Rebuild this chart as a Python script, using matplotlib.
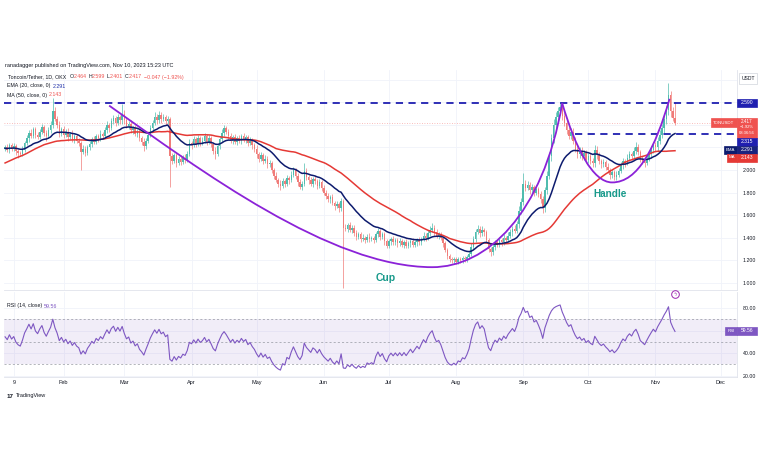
import numpy as np
import pandas as pd
import matplotlib
matplotlib.use("Agg")
import matplotlib.pyplot as plt
import matplotlib.dates as mdates
from matplotlib.path import Path
from matplotlib.patches import PathPatch, Rectangle
from matplotlib.lines import Line2D

plt.rcParams['font.family'] = ['Liberation Sans', 'DejaVu Sans']

W, H = 768, 463

# ---------------- data (TON/USDT daily) ----------------
start_date = "2023-01-05"
# closes before the first visible candle (only feed the indicators)
warmup_close = [1.74, 1.76, 1.73, 1.78, 1.75, 1.79, 1.77, 1.80, 1.78, 1.82,
                1.79, 1.81, 1.84, 1.80, 1.83, 1.86, 1.90, 1.95, 2.02, 2.08,
                2.14, 2.18, 2.22, 2.20, 2.25, 2.23, 2.27, 2.24, 2.21, 2.26,
                2.23, 2.28, 2.25, 2.22, 2.24, 2.20, 2.23, 2.19, 2.22, 2.25,
                2.21, 2.18, 2.22, 2.19, 2.23, 2.20, 2.17, 2.21, 2.19]

c_jan = [2.20, 2.18, 2.22, 2.19, 2.21, 2.17, 2.15, 2.14, 2.18, 2.24,
         2.28, 2.33, 2.30, 2.36, 2.31, 2.29, 2.34, 2.38, 2.33, 2.30,
         2.35, 2.40, 2.52, 2.45, 2.40, 2.32, 2.36]
c_feb = [2.31, 2.34, 2.29, 2.32, 2.27, 2.30, 2.26, 2.24, 2.16, 2.19,
         2.15, 2.20, 2.23, 2.27, 2.25, 2.30, 2.28, 2.32, 2.30, 2.35,
         2.40, 2.37, 2.43, 2.46, 2.42, 2.47, 2.44, 2.50]
c_mar = [2.44, 2.39, 2.41, 2.35, 2.37, 2.32, 2.34, 2.28, 2.25, 2.21,
         2.26, 2.31, 2.37, 2.42, 2.47, 2.44, 2.49, 2.45, 2.47, 2.43,
         2.45, 2.12, 2.08, 2.13, 2.06, 2.10, 2.07, 2.11, 2.09, 2.14,
         2.24]
c_apr = [2.22, 2.27, 2.23, 2.28, 2.24, 2.26, 2.30, 2.25, 2.28, 2.23,
         2.17, 2.14, 2.21, 2.27, 2.33, 2.37, 2.34, 2.30, 2.26, 2.29,
         2.25, 2.28, 2.26, 2.30, 2.27, 2.29, 2.24, 2.26, 2.22, 2.19]
c_may = [2.14, 2.10, 2.13, 2.08, 2.10, 2.05, 2.06, 2.00, 1.95, 1.91,
         1.88, 1.86, 1.90, 1.88, 1.93, 1.91, 1.96, 2.00, 1.95, 1.89,
         1.85, 1.88, 1.99, 1.94, 1.91, 1.88, 1.92, 1.90, 1.86, 1.89,
         1.84]
c_jun = [1.80, 1.77, 1.74, 1.76, 1.71, 1.68, 1.70, 1.66, 1.73, 1.49,
         1.48, 1.51, 1.47, 1.49, 1.44, 1.41, 1.43, 1.39, 1.40, 1.38,
         1.41, 1.39, 1.40, 1.38, 1.43, 1.46, 1.41, 1.43, 1.37, 1.33]
c_jul = [1.37, 1.39, 1.36, 1.38, 1.35, 1.37, 1.34, 1.36, 1.33, 1.35,
         1.37, 1.34, 1.36, 1.38, 1.36, 1.39, 1.42, 1.40, 1.44, 1.47,
         1.49, 1.45, 1.42, 1.43, 1.40, 1.35, 1.29, 1.24, 1.21, 1.20,
         1.21]
c_aug = [1.19, 1.21, 1.20, 1.22, 1.21, 1.23, 1.26, 1.32, 1.39, 1.45,
         1.48, 1.44, 1.47, 1.45, 1.38, 1.30, 1.27, 1.32, 1.36, 1.34,
         1.38, 1.36, 1.40, 1.38, 1.42, 1.45, 1.48, 1.46, 1.52, 1.64,
         1.72]
c_sep = [1.88, 1.84, 1.87, 1.82, 1.85, 1.80, 1.83, 1.79, 1.74, 1.66,
         1.82, 1.95, 2.12, 2.28, 2.40, 2.47, 2.52, 2.56, 2.48, 2.42,
         2.35, 2.30, 2.34, 2.26, 2.19, 2.14, 2.17, 2.12, 2.15, 2.09]
c_oct = [2.12, 2.08, 2.06, 2.18, 2.13, 2.08, 2.05, 2.07, 2.03, 2.00,
         1.96, 1.98, 1.94, 1.96, 1.99, 2.04, 2.08, 2.06, 2.11, 2.14,
         2.12, 2.17, 2.20, 2.16, 2.10, 2.08, 2.06, 2.10, 2.14, 2.18,
         2.22]
c_nov = [2.20, 2.26, 2.31, 2.37, 2.45, 2.53, 2.66, 2.52, 2.464, 2.417]

# upper / lower wick lengths beyond the body, in hundredths
uw_jan = [2,3,2,2,3,2,2,2,3,2, 3,2,3,2,2,3,2,3,2,2, 3,3,12,4,3,3,2]
lw_jan = [2,2,3,2,2,4,4,2,2,2, 2,3,2,2,3,2,2,2,3,4, 2,2,3,2,3,3,2]
uw_feb = [3,2,3,2,3,2,2,2,2,3, 2,2,3,2,3,2,2,3,2,3, 3,2,3,3,2,3,2,8]
lw_feb = [3,2,3,2,2,3,2,3,16,2, 3,2,2,3,2,2,3,2,3,2, 2,3,2,2,3,2,3,3]
uw_mar = [3,3,2,3,2,3,2,3,2,3, 2,3,3,2,4,3,3,2,3,2, 3,2,3,2,3,2,3,2,3,3, 3]
lw_mar = [3,2,3,2,3,2,3,2,3,4, 2,2,2,3,2,3,2,3,2,3, 2,27,3,2,3,2,3,2,3,2, 2]
uw_apr = [2,3,2,3,2,3,3,2,3,2, 2,3,2,3,3,3,2,2,3,2, 3,2,3,2,3,2,2,3,2,2]
lw_apr = [3,2,3,2,3,2,2,3,2,3, 3,4,2,2,2,3,2,3,2,3, 2,3,2,3,2,3,3,2,3,3]
uw_may = [3,2,3,2,3,2,3,2,2,3, 2,3,3,2,3,2,3,3,2,2, 3,2,7,3,2,3,2,3,2,3, 2]
lw_may = [3,3,2,3,2,3,2,3,3,2, 3,4,2,3,2,3,2,2,3,3, 2,3,2,3,3,2,3,2,3,2, 3]
uw_jun = [3,2,3,2,3,2,3,2,2,1, 3,2,3,2,2,3,2,2,3,2, 2,3,2,2,2,3,2,2,2,2]
lw_jun = [2,3,2,3,2,3,2,3,2,53, 2,3,2,3,2,3,2,3,2,3, 2,3,2,3,2,2,3,2,3,2]
uw_jul = [2,2,3,2,2,3,2,2,3,2, 2,3,2,2,3,2,3,2,3,3, 4,2,3,2,2,2,2,2,2,2, 2]
lw_jul = [2,3,2,2,3,2,2,3,2,2, 3,2,2,3,2,2,2,3,2,2, 2,3,2,3,2,3,2,3,2,2, 3]
uw_aug = [2,2,2,2,2,2,2,3,3,3, 3,2,3,2,2,2,2,3,2,2, 3,2,3,2,3,3,2,3,3,4, 3]
lw_aug = [2,2,2,2,2,2,2,2,2,3, 2,3,2,3,2,3,3,2,3,2, 2,3,2,3,2,2,3,2,2,3, 3]
uw_sep = [9,3,3,2,3,2,3,2,2,3, 3,4,4,4,5,4,4,4,3,3, 3,3,3,3,3,3,3,3,3,3]
lw_sep = [3,3,2,3,2,3,2,3,3,4, 3,3,3,4,4,4,3,3,4,3, 3,3,3,3,3,3,3,3,3,3]
uw_oct = [3,3,3,4,3,3,2,3,2,3, 2,3,2,3,3,3,3,2,3,3, 2,3,5,3,2,2,3,3,3,3, 3]
lw_oct = [3,3,3,3,3,3,3,2,3,3, 4,3,3,3,2,2,3,3,2,3, 3,2,3,3,3,3,3,2,2,3, 3]
uw_nov = [3,3,4,4,4,4,11,4,4,13.5]
lw_nov = [3,3,3,3,4,4,4,5,3.4,1.6]

resistance = 2.590
handle_level = 2.315
last_price = 2.417
month_ticks = ["2023-01-09", "2023-02-01", "2023-03-01", "2023-04-01", "2023-05-01",
               "2023-06-01", "2023-07-01", "2023-08-01", "2023-09-01", "2023-10-01",
               "2023-11-01", "2023-12-01"]
month_labels = ["9", "Feb", "Mar", "Apr", "May", "Jun", "Jul", "Aug", "Sep", "Oct", "Nov", "Dec"]
price_grid = [1.0, 1.2, 1.4, 1.6, 1.8, 2.0, 2.2, 2.4, 2.6, 2.8]
price_labels = ["1.000", "1.200", "1.400", "1.600", "1.800", "2.000", "", "", "", ""]
rsi_grid = [20, 40, 60, 80]
rsi_labels = ["20.00", "40.00", "", "80.00"]
# cup & handle drawing: (day index from first candle, price) Bezier control points
cup_ctrl = [(48, 2.57), (90, 2.00), (150, 1.14), (197, 1.14), (222, 1.14), (248, 1.60), (257, 2.59)]
handle_ctrl = [(257, 2.59), (263, 2.20), (271, 1.89), (280, 1.89), (292, 1.89), (300, 2.20), (306.5, 2.63)]

# ---------------- assemble ----------------
closes = np.array(c_jan + c_feb + c_mar + c_apr + c_may + c_jun + c_jul + c_aug + c_sep + c_oct + c_nov)
uwick = np.array(uw_jan + uw_feb + uw_mar + uw_apr + uw_may + uw_jun + uw_jul + uw_aug + uw_sep + uw_oct + uw_nov) / 100
lwick = np.array(lw_jan + lw_feb + lw_mar + lw_apr + lw_may + lw_jun + lw_jul + lw_aug + lw_sep + lw_oct + lw_nov) / 100
n = len(closes)
opens = np.r_[warmup_close[-1], closes[:-1]]
highs = np.maximum(opens, closes) + uwick
lows = np.minimum(opens, closes) - lwick
dates = pd.date_range(start_date, periods=n, freq="D")
x = mdates.date2num(dates)
x0 = x[0]

all_close = pd.Series(list(warmup_close) + list(closes))
ema = all_close.ewm(span=20, adjust=False).mean().values[-n:]
ma = all_close.rolling(50).mean().values[-n:]
delta = all_close.diff()
gain = delta.clip(lower=0)
loss = (-delta).clip(lower=0)
ag = gain.ewm(alpha=1 / 14, adjust=False).mean()
al = loss.ewm(alpha=1 / 14, adjust=False).mean()
rsi = (100 - 100 / (1 + ag / al)).values[-n:]

# ---------------- figure ----------------
fig = plt.figure(figsize=(W / 100, H / 100), dpi=100)
fig.patch.set_facecolor("white")


def fx(px):
    return px / W


def fy(py):
    return 1 - py / H


ax = fig.add_axes([fx(4), fy(290), fx(737) - fx(4), fy(70) - fy(290)])
axr = fig.add_axes([fx(4), fy(377), fx(737) - fx(4), fy(292) - fy(377)], sharex=ax)

UP, DN = "#4fbcae", "#f07c79"
cols = np.where(closes >= opens, UP, DN)
ax.vlines(x, lows, highs, colors=cols, lw=0.5, zorder=3)
body = np.maximum(np.abs(closes - opens), 0.004)
ax.bar(x, body, bottom=np.minimum(opens, closes), width=0.7, color=cols, linewidth=0, zorder=4)

ax.plot(x, ma, color="#e53935", lw=1.1, zorder=5)
ax.plot(x, ema, color="#0d1b6e", lw=1.1, zorder=6)

xmax = x0 + 337.6
ax.axhline(last_price, color="#ef5350", lw=0.6, ls=(0, (1, 2)), alpha=0.5, zorder=2)
ax.axhline(resistance, color="#1f1fb0", lw=1.3, ls=(0, (4, 3)), zorder=7)
ax.plot([x0 + 263, xmax], [handle_level, handle_level], color="#1f1fb0", lw=1.3, ls=(0, (4, 3)), zorder=7)

for ctrl in (cup_ctrl, handle_ctrl):
    verts = [(x0 + a, b) for a, b in ctrl]
    codes = [Path.MOVETO] + [Path.CURVE4] * (len(verts) - 1)
    ax.add_patch(PathPatch(Path(verts, codes), fc="none", ec="#8b22d8", lw=1.3, zorder=8))

ax.text(x0 + 175.6, 1.044, "Cup", color="#17998a", fontsize=7.5, fontweight="bold",
        ha="center", va="center", zorder=9)
ax.text(x0 + 279, 1.788, "Handle", color="#17998a", fontsize=7.2, fontweight="bold",
        ha="center", va="center", zorder=9)

ax.set_xlim(x0 - 0.5, xmax)
ax.set_ylim(0.938, 2.885)
ax.set_yticks(price_grid)
ax.set_yticklabels(price_labels)
ax.yaxis.tick_right()
ax.tick_params(axis="y", length=0, pad=4, labelsize=3.8, labelcolor="#131722")
ax.tick_params(axis="x", length=0, labelbottom=False)
ax.grid(True, color="#f0f3fa", lw=0.6)
ax.set_axisbelow(True)

axr.axhspan(30, 70, color="#7e57c2", alpha=0.10, lw=0)
for lvl in (70, 50, 30):
    axr.axhline(lvl, color="#9598a1", lw=0.5, ls=(0, (3, 3)))
axr.plot(x, rsi, color="#7e57c2", lw=0.8, zorder=4)
axr.set_ylim(18.7, 94.2)
axr.set_yticks(rsi_grid)
axr.set_yticklabels(rsi_labels)
axr.yaxis.tick_right()
axr.tick_params(axis="y", length=0, pad=4, labelsize=3.8, labelcolor="#131722")
axr.set_xticks(mdates.date2num(pd.to_datetime(month_ticks)))
axr.set_xticklabels(month_labels)
axr.tick_params(axis="x", length=0, pad=2.5, labelsize=4, labelcolor="#131722")
axr.grid(True, color="#f0f3fa", lw=0.6)
axr.set_axisbelow(True)

for a in (ax, axr):
    for s in ("left", "top"):
        a.spines[s].set_visible(False)
    for s in ("right", "bottom"):
        a.spines[s].set_color("#e0e3eb")
        a.spines[s].set_linewidth(0.6)

# ---------------- texts ----------------
DARK = "#131722"
RED = "#ef5350"
NAVY = "#1f2fa8"
PURP = "#7e57c2"
renderer = fig.canvas.get_renderer()


def seq_text(x_px, y_px, parts, fs):
    xx = x_px
    for s, c, gap in parts:
        t = fig.text(fx(xx), fy(y_px), s, color=c, fontsize=fs, va="center", ha="left", zorder=12)
        xx += t.get_window_extent(renderer=renderer).width + gap


fig.text(fx(5), fy(65), "ranadagger published on TradingView.com, Nov 10, 2023 15:23 UTC",
         fontsize=4, color=DARK, va="center")
seq_text(8, 77, [("Toncoin/Tether, 1D, OKX", DARK, 3), ("O", DARK, 0.3), ("2.464", RED, 1.5),
                 ("H", DARK, 0.3), ("2.599", RED, 1.5), ("L", DARK, 0.3), ("2.401", RED, 1.5),
                 ("C", DARK, 0.3), ("2.417", RED, 1.5), ("−0.047 (−1.92%)", RED, 0)], 3.8)
seq_text(7, 86, [("EMA (20, close, 0)", DARK, 2), ("2.291", NAVY, 0)], 3.8)
seq_text(7, 95, [("MA (50, close, 0)", DARK, 2), ("2.143", RED, 0)], 3.8)
seq_text(7, 306, [("RSI (14, close)", DARK, 2), ("59.56", PURP, 0)], 3.8)


def box(x0p, y0p, x1p, y1p, fc, ec=None):
    fig.add_artist(Rectangle((fx(x0p), fy(y1p)), fx(x1p) - fx(x0p), fy(y0p) - fy(y1p),
                             transform=fig.transFigure, fc=fc, ec=ec or fc, lw=0.5, zorder=10))


def label(xp, yp, s, color="white", fs=3.6):
    fig.text(fx(xp), fy(yp), s, color=color, fontsize=fs, ha="center", va="center", zorder=11)


box(739, 73, 757, 84, "white", "#d1d4dc")
label(748, 78.5, "USDT", DARK)
box(737, 99, 757, 107, "#1f1fb0")
label(747, 103, "2.590")
box(711, 118, 737, 127, RED)
label(724, 122.5, "TONUSDT", fs=3.2)
box(737, 118, 757, 137.5, RED)
label(747, 121.5, "2.417", fs=3.3)
label(747, 127.5, "−1.92%", fs=3.0)
label(747, 133.2, "08:36:56", fs=3.0)
box(737, 137.5, 757, 145.5, "#1f1fb0")
label(747, 141.5, "2.315")
box(724, 145.5, 737, 153.5, "#0d1b6e")
label(730.5, 149.5, "EMA", fs=3.2)
box(737, 145.5, 757, 153.5, "#1a237e")
label(747, 149.5, "2.291")
box(727, 153.5, 737, 161.5, "#e53935")
label(732, 157.5, "MA", fs=3.2)
box(737, 153.5, 757, 161.5, "#e53935")
label(747, 157.5, "2.143")
box(725, 327, 737, 335, PURP)
label(731, 331, "RSI", fs=3.2)
box(737, 327, 757, 335, PURP)
label(747, 331, "59.56")

# event marker
fig.add_artist(Line2D([fx(675)], [fy(294)], marker="o", ms=5.5, mfc="white", mec="#9c27b0",
                      mew=0.7, transform=fig.transFigure, zorder=12))
fig.text(fx(675), fy(294), "ϟ", color="#9c27b0", fontsize=3.5, ha="center", va="center",
         family=["DejaVu Sans"], zorder=13)

# logo
fig.text(fx(7), fy(396), "17", fontsize=4.5, fontweight="bold", color=DARK, va="center")
fig.text(fx(16), fy(396), "TradingView", fontsize=4, color=DARK, va="center")

fig.savefig("out.png", dpi=100)
